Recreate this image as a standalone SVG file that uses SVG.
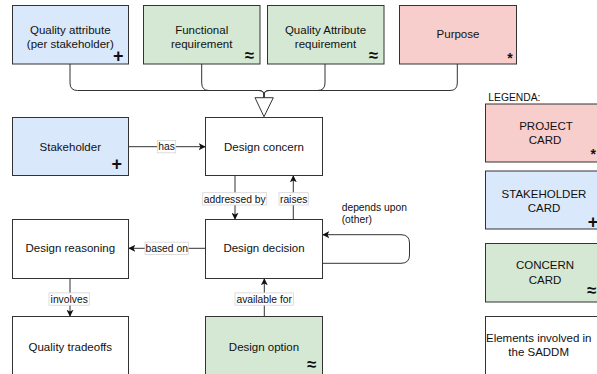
<svg xmlns="http://www.w3.org/2000/svg" width="597" height="374" viewBox="0 0 597 374">
<style>
text{font-family:"Liberation Sans",Arial,sans-serif;fill:#111}
.t{font-size:11.5px;text-anchor:middle}
.l{font-size:10.3px;text-anchor:middle}
.sym{font-weight:bold;text-anchor:middle}
.box{stroke:#333;stroke-width:1}
.w{fill:#fff}.b{fill:#dae8fc}.g{fill:#d5e8d4}.r{fill:#f8cecc}
.e{fill:none;stroke:#333;stroke-width:1}
.lb{fill:#fff;stroke:#d4d4d4;stroke-width:0.8}
</style>
<defs>
<marker id="arr" viewBox="0 0 10 10" refX="9" refY="5" markerWidth="7" markerHeight="7" markerUnits="userSpaceOnUse" orient="auto">
<path d="M0,0 L10,5 L0,10 L2.5,5 Z" fill="#111"/>
</marker>
</defs>
<rect width="597" height="374" fill="#fff"/>

<g id="connectors">
<path class="e" d="M70,64 V83 Q70,90.5 77.5,90.5 H259 Q264,90.5 264,95 V98"/>
<path class="e" d="M201.7,64 V83 Q201.7,90.5 209,90.5 H259 Q264,90.5 264,95 V98"/>
<path class="e" d="M325,64 V83 Q325,90.5 317.5,90.5 H269 Q264,90.5 264,95 V98"/>
<path class="e" d="M457.3,64 V83 Q457.3,90.5 450,90.5 H269 Q264,90.5 264,95 V98"/>
<polygon points="255,97.7 273.3,97.7 264,116.7" fill="#fff" stroke="#333" stroke-width="1"/>
<path class="e" d="M128.5,146.7 H205" marker-end="url(#arr)"/>
<path class="e" d="M235,175.5 V219" marker-end="url(#arr)"/>
<path class="e" d="M293.3,219.5 V176" marker-end="url(#arr)"/>
<path class="e" d="M205.5,248.3 H129" marker-end="url(#arr)"/>
<path class="e" d="M70,278.5 V316" marker-end="url(#arr)"/>
<path class="e" d="M264.3,316.5 V279" marker-end="url(#arr)"/>
<path class="e" d="M322.5,263.3 H401 Q409.5,263.3 409.5,255 V243 Q409.5,234.7 401,234.7 H323" marker-end="url(#arr)"/>
<rect class="lb" x="157.3" y="140.5" width="18.4" height="12.3"/>
<text class="l" x="166.5" y="150.4">has</text>
<rect class="lb" x="202.7" y="192.7" width="64" height="12.3"/>
<text class="l" x="234.7" y="202.6">addressed by</text>
<rect class="lb" x="279" y="192.7" width="29.3" height="12.3"/>
<text class="l" x="293.7" y="202.6">raises</text>
<rect class="lb" x="145" y="242.2" width="43.3" height="12.3"/>
<text class="l" x="166.7" y="252.1">based on</text>
<rect class="lb" x="49" y="292.9" width="40.3" height="12.3"/>
<text class="l" x="69.2" y="302.8">involves</text>
<rect class="lb" x="235" y="292.9" width="58.3" height="12.3"/>
<text class="l" x="264.2" y="302.8">available for</text>
<text x="341.7" y="210.6" style="font-size:10.3px">depends upon</text>
<text x="341.7" y="222.6" style="font-size:10.3px">(other)</text>
</g>

<g id="quality-attribute">
<rect class="box b" x="12.5" y="5.5" width="116" height="58.5"/>
<text class="t" x="70.3" y="33.5">Quality attribute</text>
<text class="t" x="70.3" y="47.7">(per stakeholder)</text>
<text class="sym" x="118.3" y="61.8" style="font-size:18px">+</text>
</g>
<g id="functional-requirement">
<rect class="box g" x="143.5" y="5.5" width="116.5" height="58.5"/>
<text class="t" x="201.7" y="33.5">Functional</text>
<text class="t" x="201.7" y="47.7">requirement</text>
<text class="sym" x="249.3" y="60.5" style="font-size:17px">≈</text>
</g>
<g id="quality-attribute-requirement">
<rect class="box g" x="267.5" y="5.5" width="116.5" height="58.5"/>
<text class="t" x="325.5" y="33.5">Quality Attribute</text>
<text class="t" x="325.5" y="47.7">requirement</text>
<text class="sym" x="373.3" y="60.5" style="font-size:17px">≈</text>
</g>
<g id="purpose">
<rect class="box r" x="399.5" y="5.5" width="117" height="58.5"/>
<text class="t" x="458" y="37.7">Purpose</text>
<text class="sym" x="510" y="63" style="font-size:14px">*</text>
</g>

<g id="stakeholder">
<rect class="box b" x="12.5" y="117.5" width="116" height="58"/>
<text class="t" x="70.3" y="150.7">Stakeholder</text>
<text class="sym" x="116.7" y="170.3" style="font-size:18px">+</text>
</g>
<g id="design-concern">
<rect class="box w" x="205.5" y="117.5" width="117" height="58"/>
<text class="t" x="264" y="150.7">Design concern</text>
</g>
<g id="design-reasoning">
<rect class="box w" x="12.5" y="219.5" width="116" height="59"/>
<text class="t" x="70.3" y="252.4">Design reasoning</text>
</g>
<g id="design-decision">
<rect class="box w" x="205.5" y="219.5" width="117" height="59"/>
<text class="t" x="264" y="252.4">Design decision</text>
</g>
<g id="quality-tradeoffs">
<rect class="box w" x="12.5" y="316.5" width="116" height="62"/>
<text class="t" x="70.3" y="350.7">Quality tradeoffs</text>
</g>
<g id="design-option">
<rect class="box g" x="205.5" y="316.5" width="117" height="62"/>
<text class="t" x="264" y="350.7">Design option</text>
<text class="sym" x="311.7" y="370" style="font-size:17px">≈</text>
</g>

<g id="legend">
<text x="488.3" y="100.5" style="font-size:10.3px">LEGENDA:</text>
</g>
<g id="legend-project">
<rect class="box r" x="485.5" y="104" width="120" height="58"/>
<text class="t" x="546" y="129.8">PROJECT</text>
<text class="t" x="545" y="143.8">CARD</text>
<text class="sym" x="593.3" y="159" style="font-size:14px">*</text>
</g>
<g id="legend-stakeholder">
<rect class="box b" x="485.5" y="171" width="120" height="58"/>
<text class="t" x="544" y="198.3">STAKEHOLDER</text>
<text class="t" x="544" y="212.3">CARD</text>
<text class="sym" x="593" y="227.8" style="font-size:18px">+</text>
</g>
<g id="legend-concern">
<rect class="box g" x="485.5" y="243.5" width="120" height="58.5"/>
<text class="t" x="545" y="269">CONCERN</text>
<text class="t" x="545" y="284">CARD</text>
<text class="sym" x="591.7" y="296.3" style="font-size:17px">≈</text>
</g>
<g id="legend-elements">
<rect class="box w" x="485.5" y="316.5" width="120" height="62"/>
<text x="486" y="342.3" style="font-size:11.5px">Elements involved in</text>
<text x="508.3" y="355.7" style="font-size:11.5px">the SADDM</text>
</g>
</svg>
